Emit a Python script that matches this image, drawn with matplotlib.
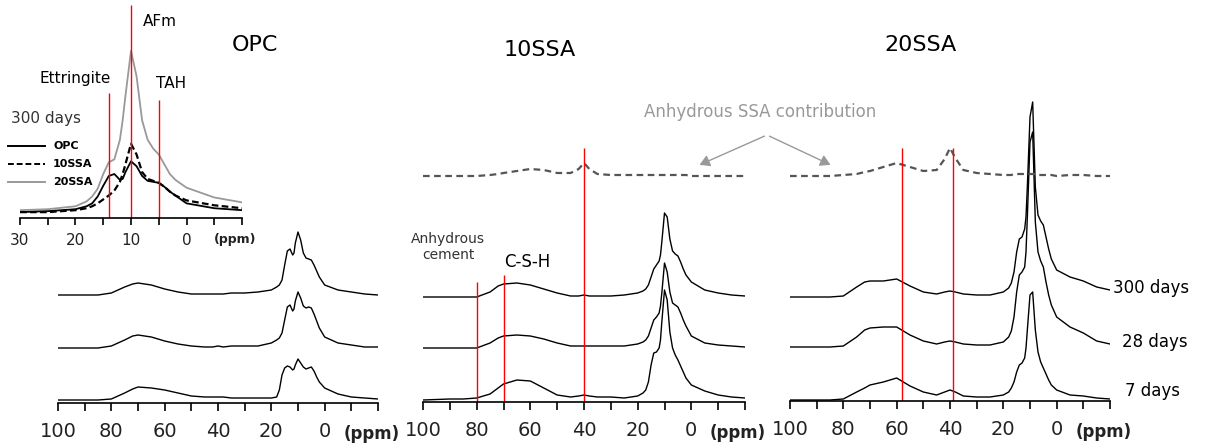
import matplotlib
matplotlib.use("Agg")
import matplotlib.pyplot as plt

W, H = 1206, 448

# chemical shift grid (ppm) for the main spectra
ppm = [100, 90, 85, 80, 75, 72, 70, 65, 60, 55, 50, 45, 42, 40, 38, 35, 30, 25, 20, 18, 17, 16,
       15, 14, 13, 12, 11.5, 11, 10, 9, 8, 7, 6, 5, 4, 3, 2, 0, -5, -10, -15, -20]

opc_300 = [0, 0, 0, 2, 8, 11, 12, 10, 6, 3, 1, 1, 1, 1, 1, 2, 2, 3, 5, 8, 10, 15,
           30, 44, 46, 40, 42, 52, 63, 55, 42, 37, 36, 35, 30, 24, 18, 10, 5, 3, 1, 0]
opc_28 = [0, 0, 0, 2, 8, 12, 13, 11, 7, 4, 2, 1, 1, 2, 1, 2, 2, 2, 5, 8, 10, 15,
          28, 41, 43, 37, 39, 47, 56, 50, 42, 40, 41, 40, 34, 27, 20, 11, 5, 3, 1, 1]
opc_7 = [0, 0, 0, 1, 7, 11, 13, 12, 10, 7, 4, 3, 3, 3, 3, 2, 2, 2, 2, 3, 10, 25,
         32, 34, 33, 30, 31, 35, 41, 37, 33, 31, 32, 33, 29, 23, 18, 12, 6, 3, 2, 1]

ssa10_300 = [0, 0, 0, 0, 5, 11, 13, 14, 12, 8, 4, 1, 1, 2, 1, 1, 1, 2, 4, 6, 8, 12,
             20, 28, 32, 36, 42, 55, 84, 80, 58, 46, 43, 41, 35, 28, 22, 15, 7, 4, 2, 1]
ssa10_28 = [0, 0, 0, 0, 5, 10, 12, 13, 12, 9, 5, 2, 2, 2, 2, 2, 2, 2, 4, 6, 8, 12,
            20, 28, 31, 35, 42, 55, 85, 76, 56, 45, 43, 41, 35, 28, 22, 12, 5, 3, 2, 1]
ssa10_7 = [0, 1, 1, 2, 6, 12, 16, 20, 19, 12, 5, 3, 4, 5, 4, 3, 3, 2, 4, 7, 10, 18,
           35, 47, 48, 52, 60, 78, 110, 100, 68, 52, 45, 40, 34, 28, 22, 15, 9, 5, 3, 2]
ssa10_anh = [0, 0, 0, 0, 1, 2, 3, 5, 7, 6, 3, 3, 7, 13, 7, 2, 1, 1, 1, 1, 1, 1,
             1, 1, 1, 1, 1, 1, 1, 1, 1, 1, 1, 1, 1, 1, 1, 0, 0, 0, 0, 0]

ssa20_300 = [0, 0, 0, 1, 10, 15, 16, 16, 18, 11, 5, 3, 5, 6, 5, 3, 2, 2, 5, 9, 14, 25,
             45, 58, 60, 68, 80, 110, 180, 195, 110, 82, 76, 72, 60, 48, 38, 27, 20, 16, 10, 7]
ssa20_28 = [0, 0, 0, 1, 10, 17, 19, 20, 20, 12, 6, 3, 5, 6, 5, 3, 2, 2, 5, 10, 16, 30,
            55, 72, 75, 80, 95, 130, 205, 215, 125, 95, 86, 80, 65, 52, 42, 30, 20, 14, 6, 3]
ssa20_7 = [0, 0, 0, 1, 8, 12, 15, 18, 22, 14, 8, 5, 8, 10, 8, 4, 3, 3, 5, 8, 12, 18,
           28, 35, 37, 42, 52, 70, 105, 108, 70, 48, 38, 32, 26, 20, 15, 10, 5, 4, 2, 1]
ssa20_anh = [0, 0, 0, 1, 2, 4, 5, 9, 13, 9, 5, 6, 17, 28, 18, 6, 3, 2, 1, 1, 1, 2,
             2, 2, 2, 2, 2, 2, 2, 2, 2, 1, 1, 1, 1, 1, 1, 0, 1, 1, 0, 0]

# inset: 300 days, zoom on the Al(VI) region
ppm_in = [30, 25, 20, 18, 17, 16, 15, 14, 13, 12, 11.5, 11, 10, 9, 8, 7, 6, 5, 4, 3, 2, 0, -5, -10]
in_opc = [1, 2, 4, 7, 10, 17, 28, 38, 40, 34, 35, 42, 53, 48, 38, 33, 32, 31, 27, 22, 18, 10, 5, 3]
in_10 = [1, 1, 3, 5, 7, 10, 14, 18, 23, 32, 40, 50, 71, 60, 42, 35, 33, 31, 27, 22, 18, 13, 8, 5]
in_20 = [3, 4, 7, 12, 17, 25, 40, 52, 55, 75, 95, 120, 166, 140, 95, 75, 66, 60, 50, 40, 34, 26, 16, 11]

ages = ["300 days", "28 days", "7 days"]

fig = plt.figure(figsize=(W / 100, H / 100), dpi=100)


def px_axes(x0, x1, ytop, ybot):
    return fig.add_axes([x0 / W, 1 - ybot / H, (x1 - x0) / W, (ybot - ytop) / H])


def style(ax, xmax, xmin, step, labels, fs):
    ax.set_xlim(xmax, xmin)
    for s in ["top", "left", "right"]:
        ax.spines[s].set_visible(False)
    ax.spines["bottom"].set_linewidth(1.2)
    ax.set_yticks([])
    ax.set_xticks(range(xmin, xmax + 1, step))
    ax.set_xticklabels([str(t) if t in labels else "" for t in range(xmin, xmax + 1, step)],
                       fontsize=fs, color="#222222")
    ax.tick_params(axis="x", direction="out", length=6, width=1.2, pad=8)
    ax.patch.set_alpha(0)


panels = [
    (58, 378, 403, [opc_300, opc_28, opc_7], [108, 55, 3], None, None),
    (423, 745, 402, [ssa10_300, ssa10_28, ssa10_7], [105, 54, 2], ssa10_anh, 226),
    (790, 1110, 401, [ssa20_300, ssa20_28, ssa20_7], [104, 54, 1], ssa20_anh, 225),
]
axes = []
for x0, x1, yb, specs, offs, anh, aoff in panels:
    ax = px_axes(x0, x1, 0, yb)
    style(ax, 100, -20, 10, [100, 80, 60, 40, 20, 0], 14)
    ax.set_ylim(0, yb)
    for s, o in zip(specs, offs):
        ax.plot(ppm, [v + o for v in s], color="black", lw=1)
    if anh is not None:
        ax.plot(ppm, [v + aoff for v in anh], color="#555555", lw=1.6, ls=(0, (3, 2)))
    ax.text(-7, -22, "(ppm)", fontsize=12, fontweight="bold", ha="left", va="top",
            color="#222222")
    axes.append(ax)

# red reference lines
axes[1].vlines([80, 70], 0, [120, 127], color="red", lw=1)
axes[1].vlines(40, 0, 254, color="red", lw=1)
axes[2].vlines([58, 39], 0, 253, color="red", lw=1)

# inset
axi = px_axes(20, 242, 0, 218)
style(axi, 30, -10, 5, [30, 20, 10, 0], 11)
axi.tick_params(axis="x", length=5, pad=6)
axi.set_ylim(-5, 218)
axi.plot(ppm_in, in_20, color="#999999", lw=1.3)
axi.plot(ppm_in, in_10, color="black", lw=1.6, ls=(0, (3, 1.5)))
axi.plot(ppm_in, in_opc, color="black", lw=1.3)
axi.vlines([14, 10, 5], -5, [123, 213, 116], color="red", lw=1)
axi.text(-5, -20, "(ppm)", fontsize=9, fontweight="bold", ha="left", va="top", color="#222222")


def fx(x):
    return x / W


def fy(y):
    return 1 - y / H


fig.text(fx(255), fy(45), "OPC", fontsize=16, ha="center", va="center")
fig.text(fx(540), fy(50), "10SSA", fontsize=16, ha="center", va="center")
fig.text(fx(920), fy(45), "20SSA", fontsize=16, ha="center", va="center")
fig.text(fx(160), fy(22), "AFm", fontsize=11, ha="center", va="center")
fig.text(fx(75), fy(78), "Ettringite", fontsize=11, ha="center", va="center")
fig.text(fx(171), fy(83), "TAH", fontsize=11, ha="center", va="center")
fig.text(fx(11), fy(118), "300 days", fontsize=11, ha="left", va="center", color="#333333")
for yy, lab, col, ls in [(146, "OPC", "black", "-"), (164, "10SSA", "black", (0, (3, 1.5))),
                         (182, "20SSA", "#999999", "-")]:
    fig.add_artist(plt.Line2D([fx(8), fx(45)], [fy(yy), fy(yy)], color=col, lw=1.4, ls=ls))
    fig.text(fx(53), fy(yy), lab, fontsize=8, fontweight="bold", ha="left", va="center")

fig.text(fx(760), fy(112), "Anhydrous SSA contribution", fontsize=12, ha="center",
         va="center", color="#999999")
for tx in (697, 833):
    fig.add_artist(matplotlib.patches.FancyArrowPatch(
        (fx(767), fy(135)), (fx(tx), fy(166)), transform=fig.transFigure,
        arrowstyle="-|>,head_length=6,head_width=3.5", color="#999999", lw=1))

fig.text(fx(448), fy(247), "Anhydrous\ncement", fontsize=10, ha="center", va="center",
         color="#333333", linespacing=1.1)
fig.text(fx(527), fy(262), "C-S-H", fontsize=12, ha="center", va="center")
fig.text(fx(1113), fy(288), "300 days", fontsize=12, ha="left", va="center")
fig.text(fx(1122), fy(342), "28 days", fontsize=12, ha="left", va="center")
fig.text(fx(1125), fy(391), "7 days", fontsize=12, ha="left", va="center")

fig.savefig("out.png", dpi=100)
